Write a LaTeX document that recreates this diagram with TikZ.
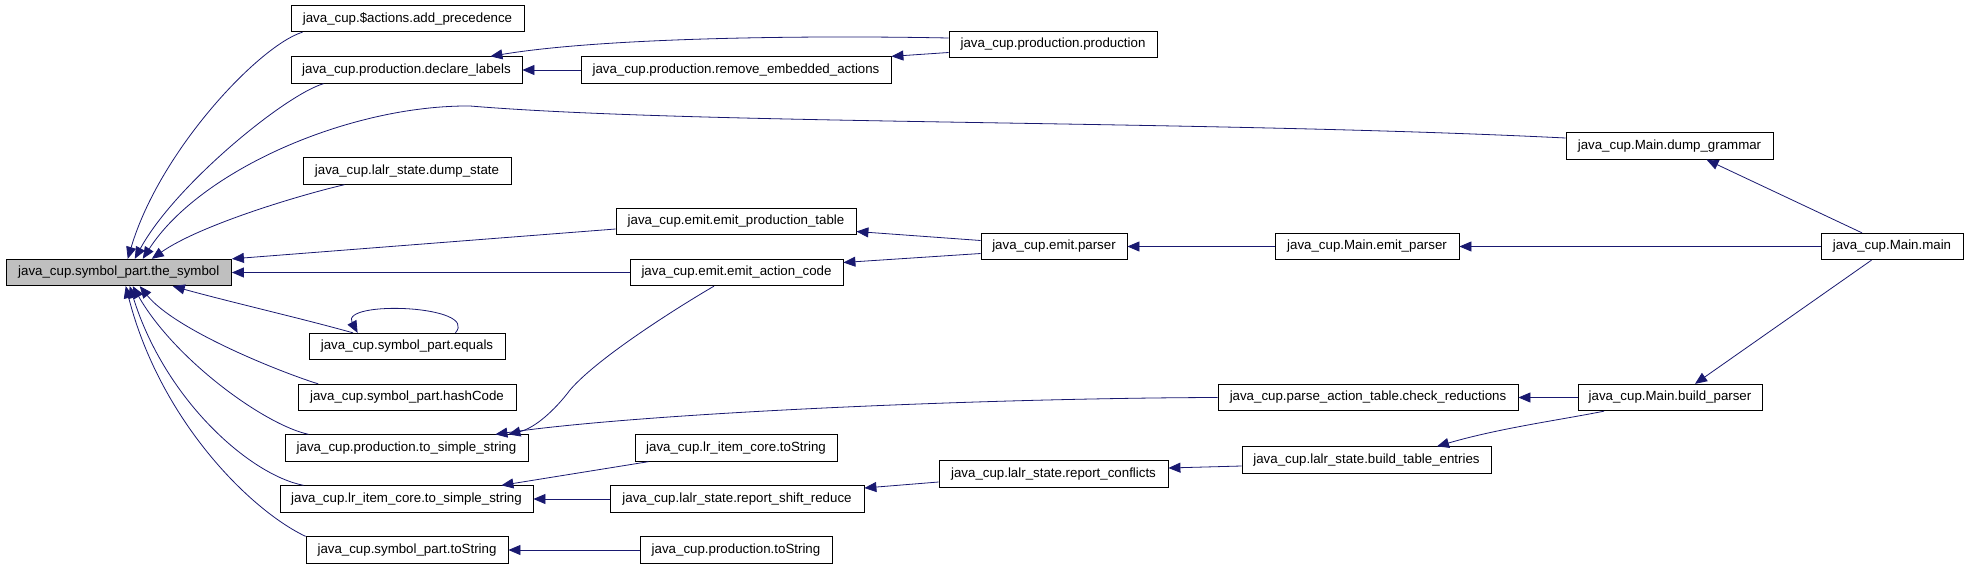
\documentclass[tikz,border=0pt]{standalone}
\usepackage{fontspec}
\setmainfont{Liberation Sans}
\usetikzlibrary{arrows.meta}
\definecolor{midnight}{RGB}{25,25,112}
\definecolor{focusgray}{RGB}{191,191,191}
\tikzset{
  fnbox/.style={draw=black, line width=0.8pt, minimum height=26.5pt, inner sep=0pt,
    font=\fontsize{13.3}{15}\selectfont, anchor=center},
  calls/.style={draw=midnight, line width=0.8pt,
    -{Triangle[length=12pt,width=10pt,fill=midnight]}}
}
\begin{document}
\begin{tikzpicture}[x=1pt,y=-1pt]
\useasboundingbox (0,0) rectangle (1968,568);
% nodes
\node[fnbox, fill=focusgray, minimum width=225.5pt] (sym) at (118.75,272.5) {java\_cup.symbol\_part.the\_symbol};
\node[fnbox, minimum width=233pt] (addprec) at (407.5,18.5) {java\_cup.\$actions.add\_precedence};
\node[fnbox, minimum width=231pt] (declab) at (406.5,70) {java\_cup.production.declare\_labels};
\node[fnbox, minimum width=208pt] (dumpstate) at (407,171) {java\_cup.lalr\_state.dump\_state};
\node[fnbox, minimum width=196pt] (equals) at (407,346.5) {java\_cup.symbol\_part.equals};
\node[fnbox, minimum width=218pt] (hashcode) at (407,397.5) {java\_cup.symbol\_part.hashCode};
\node[fnbox, minimum width=243pt] (ptss) at (406.5,448) {java\_cup.production.to\_simple\_string};
\node[fnbox, minimum width=253pt] (lrtss) at (406.5,499) {java\_cup.lr\_item\_core.to\_simple\_string};
\node[fnbox, minimum width=202pt] (symtostr) at (407,550) {java\_cup.symbol\_part.toString};
\node[fnbox, minimum width=310pt] (rememb) at (736,70) {java\_cup.production.remove\_embedded\_actions};
\node[fnbox, minimum width=240pt] (emitpt) at (736,221.5) {java\_cup.emit.emit\_production\_table};
\node[fnbox, minimum width=213pt] (emitac) at (736.5,272.5) {java\_cup.emit.emit\_action\_code};
\node[fnbox, minimum width=202pt] (lrtostr) at (736,448) {java\_cup.lr\_item\_core.toString};
\node[fnbox, minimum width=254pt] (rsr) at (737,499) {java\_cup.lalr\_state.report\_shift\_reduce};
\node[fnbox, minimum width=192pt] (prodtostr) at (736,550) {java\_cup.production.toString};
\node[fnbox, minimum width=208pt] (prodprod) at (1053,44.5) {java\_cup.production.production};
\node[fnbox, minimum width=146pt] (emitparser) at (1054,246.5) {java\_cup.emit.parser};
\node[fnbox, minimum width=229pt] (rconf) at (1053.5,474) {java\_cup.lalr\_state.report\_conflicts};
\node[fnbox, minimum width=300pt] (checkred) at (1368,397.5) {java\_cup.parse\_action\_table.check\_reductions};
\node[fnbox, minimum width=249pt] (bte) at (1366.5,460) {java\_cup.lalr\_state.build\_table\_entries};
\node[fnbox, minimum width=207pt] (dumpgrammar) at (1669.5,146) {java\_cup.Main.dump\_grammar};
\node[fnbox, minimum width=184pt] (mainemit) at (1367,246.5) {java\_cup.Main.emit\_parser};
\node[fnbox, minimum width=184pt] (buildparser) at (1670,397.5) {java\_cup.Main.build\_parser};
\node[fnbox, minimum width=142pt] (mainmain) at (1892,246.5) {java\_cup.Main.main};
% edges into the_symbol
\draw[calls] ([xshift=12pt]addprec.south west) .. controls (260,45) and (160,150) .. ([xshift=9pt]sym.north);
\draw[calls] ([xshift=33pt]declab.south west) .. controls (285,95) and (175,185) .. ([xshift=16pt]sym.north);
\draw[calls] ([yshift=8pt]dumpgrammar.west) .. controls (1200,120) and (700,125) .. (470,106)
   .. controls (350,105) and (200,170) .. ([xshift=24pt]sym.north);
\draw[calls] ([xshift=42pt]dumpstate.south west) .. controls (300,195) and (200,225) .. ([xshift=33pt]sym.north);
\draw[calls] ([yshift=-7.5pt]emitpt.west) -- (sym.north east);
\draw[calls] (emitac.west) -- (sym.east);
\draw[calls] ([xshift=44.5pt]equals.north west) .. controls (300,318) and (230,302) .. ([xshift=54pt]sym.south);
\draw[calls] ([xshift=20.6pt]hashcode.north west) .. controls (280,372) and (175,330) .. ([xshift=21pt]sym.south);
\draw[calls] ([xshift=24pt]ptss.north west) .. controls (265,425) and (175,360) .. ([xshift=14pt]sym.south);
\draw[calls] ([xshift=24pt]lrtss.north west) .. controls (250,475) and (165,400) .. ([xshift=11pt]sym.south);
\draw[calls] (symtostr.north west) .. controls (250,510) and (160,420) .. ([xshift=7pt]sym.south);
% self loop
\draw[calls] ([xshift=-50pt]equals.north east) .. controls (480,305) and (340,300) .. ([xshift=49pt]equals.north west);
% other edges
\draw[calls] (rememb.west) -- (declab.east);
\draw[calls] ([yshift=6.5pt]prodprod.west) .. controls (800,35) and (600,38) .. ([xshift=-32pt]declab.north east);
\draw[calls] ([yshift=-8pt]prodprod.west) -- (rememb.north east);
\draw[calls] ([yshift=6pt]emitparser.west) -- ([yshift=-10pt]emitpt.east);
\draw[calls] ([yshift=-7pt]emitparser.west) -- ([yshift=10pt]emitac.east);
\draw[calls] (mainemit.west) -- (emitparser.east);
\draw[calls] (mainmain.west) -- (mainemit.east);
\draw[calls] ([xshift=-30pt]mainmain.north) -- ([xshift=37pt]dumpgrammar.south);
\draw[calls] ([xshift=-20.5pt]mainmain.south) -- ([xshift=25pt]buildparser.north);
\draw[calls] (buildparser.west) -- (checkred.east);
\draw[calls] ([xshift=26.5pt]buildparser.south west) .. controls (1560,420) and (1500,428) .. ([xshift=70.5pt]bte.north);
\draw[calls] ([xshift=-22.5pt]emitac.south) .. controls (690,300) and (600,355) .. (570,390)
   .. controls (555,410) and (535,428) .. ([xshift=-20pt]ptss.north east);
\draw[calls] (checkred.west) .. controls (1000,398) and (650,412) .. ([xshift=-33pt]ptss.north east);
\draw[calls] ([xshift=14pt]lrtostr.south west) -- ([xshift=-32pt]lrtss.north east);
\draw[calls] (rsr.west) -- (lrtss.east);
\draw[calls] ([yshift=-8pt]rconf.west) -- ([yshift=11pt]rsr.east);
\draw[calls] ([yshift=-6pt]bte.west) -- ([yshift=6pt]rconf.east);
\draw[calls] (prodtostr.west) -- (symtostr.east);
\end{tikzpicture}
\end{document}
